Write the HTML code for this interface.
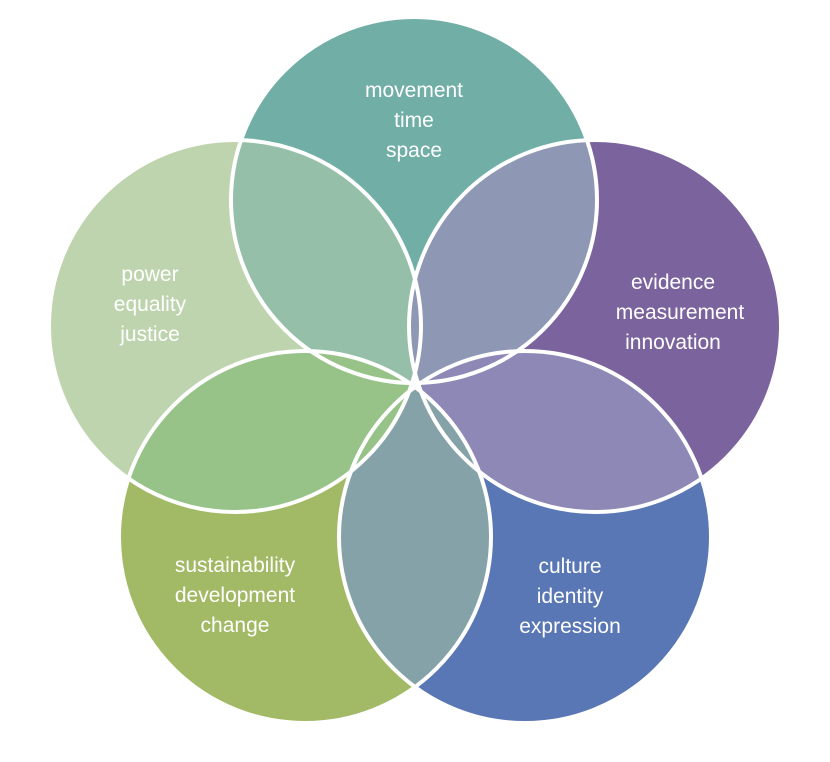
<!DOCTYPE html>
<html><head><style>
html,body{margin:0;padding:0;background:#fff;}
svg{display:block}
text{font-family:"Liberation Sans",sans-serif;font-size:21px;fill:#fff;text-anchor:middle}
</style></head><body>
<svg width="830" height="762" viewBox="0 0 830 762">
<defs>
<clipPath id="cT"><circle cx="414" cy="200" r="183"/></clipPath>
<clipPath id="cR"><circle cx="595" cy="326" r="186"/></clipPath>
<clipPath id="cBR"><circle cx="525" cy="537" r="186"/></clipPath>
<clipPath id="cBL"><circle cx="305" cy="537" r="186"/></clipPath>
<clipPath id="cL"><circle cx="235" cy="326" r="186"/></clipPath>
</defs>
<circle cx="414" cy="200" r="183" fill="#70aea6"/>
<circle cx="595" cy="326" r="186" fill="#7b639e"/>
<circle cx="525" cy="537" r="186" fill="#5977b4"/>
<circle cx="305" cy="537" r="186" fill="#a2ba66"/>
<circle cx="235" cy="326" r="186" fill="#bed4ae"/>
<circle cx="414" cy="200" r="183" fill="#95bfa8" clip-path="url(#cL)"/>
<circle cx="414" cy="200" r="183" fill="#8e98b4" clip-path="url(#cR)"/>
<circle cx="595" cy="326" r="186" fill="#8e88b6" clip-path="url(#cBR)"/>
<circle cx="525" cy="537" r="186" fill="#85a2a8" clip-path="url(#cBL)"/>
<circle cx="305" cy="537" r="186" fill="#97c288" clip-path="url(#cL)"/>
<g fill="none" stroke="#fff" stroke-width="4">
<circle cx="414" cy="200" r="183"/>
<circle cx="595" cy="326" r="186"/>
<circle cx="525" cy="537" r="186"/>
<circle cx="305" cy="537" r="186"/>
<circle cx="235" cy="326" r="186"/>
</g>
<text x="414" y="97">movement</text>
<text x="414" y="127">time</text>
<text x="414" y="157">space</text>
<text x="150" y="281">power</text>
<text x="150" y="311">equality</text>
<text x="150" y="341">justice</text>
<text x="673" y="289">evidence</text>
<text x="680" y="319">measurement</text>
<text x="673" y="349">innovation</text>
<text x="570" y="573">culture</text>
<text x="570" y="603">identity</text>
<text x="570" y="633">expression</text>
<text x="235" y="572">sustainability</text>
<text x="235" y="602">development</text>
<text x="235" y="632">change</text>
</svg>
</body></html>
